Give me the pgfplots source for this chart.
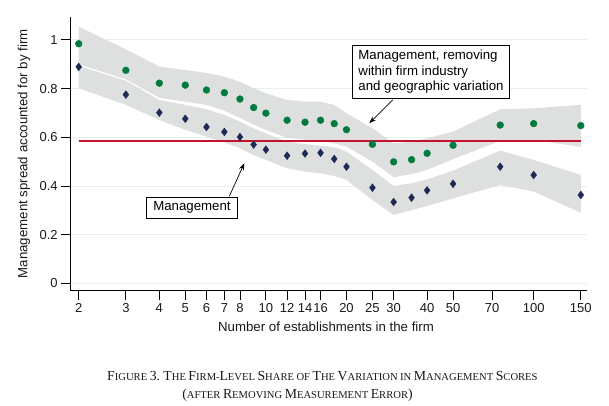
\documentclass[border=0pt]{standalone}
\usepackage{fontspec}
\setsansfont{Liberation Sans}
\newfontfamily\capfont{Liberation Serif}
\usepackage{pgfplots}
\usepackage{pgfplotstable}
\pgfplotsset{compat=1.18}
\usetikzlibrary{arrows.meta}

\definecolor{mgreen}{RGB}{0,122,61}
\definecolor{mnavy}{RGB}{28,42,84}
\definecolor{mred}{RGB}{196,18,48}
\definecolor{bandgray}{RGB}{222,223,223}
\definecolor{gridc}{RGB}{230,240,241}

% caption small caps: big capital, then smaller capitals
\newcommand\B[1]{{\fontsize{13.8}{15}\selectfont #1}}
\newcommand\s[1]{{\fontsize{10.6}{15}\selectfont #1}}

% points: x, removing variation (green), management (navy)
\pgfplotstableread{
x    green  navy
2    0.984  0.889
3    0.875  0.775
4    0.822  0.701
5    0.814  0.676
6    0.794  0.642
7    0.783  0.622
8    0.757  0.601
9    0.722  0.570
10   0.699  0.549
12   0.670  0.524
14   0.662  0.533
16   0.670  0.536
18   0.656  0.511
20   0.631  0.479
25   0.571  0.393
30   0.499  0.334
35   0.508  0.352
40   0.534  0.382
50   0.567  0.409
75   0.650  0.479
100  0.656  0.445
150  0.648  0.363
}\points

% upper band outline: top edge left to right, then bottom edge back
\pgfplotstableread{
x    y
2    1.054
3    0.961
4    0.890
5    0.876
6    0.864
7    0.849
8    0.828
9    0.801
10   0.781
12   0.753
14   0.746
16   0.746
18   0.733
20   0.699
25   0.637
30   0.575
35   0.582
40   0.596
50   0.623
75   0.715
100  0.719
150  0.733
150  0.561
100  0.588
75   0.585
50   0.510
40   0.466
35   0.449
30   0.436
25   0.500
20   0.561
18   0.575
16   0.585
14   0.590
12   0.598
10   0.630
9    0.652
8    0.680
7    0.709
6    0.733
5    0.746
4    0.762
3    0.838
2    0.900
}\upperband

% lower band outline
\pgfplotstableread{
x    y
2    0.893
3    0.832
4    0.753
5    0.733
6    0.715
7    0.692
8    0.664
9    0.637
10   0.616
12   0.582
14   0.572
16   0.565
18   0.560
20   0.541
25   0.466
30   0.400
35   0.411
40   0.427
50   0.463
75   0.545
100  0.507
150  0.445
150  0.290
100  0.377
75   0.404
50   0.349
40   0.318
35   0.301
30   0.281
25   0.342
20   0.425
18   0.441
16   0.452
14   0.459
12   0.473
10   0.507
9    0.527
8    0.555
7    0.578
6    0.603
5    0.630
4    0.671
3    0.733
2    0.801
}\lowerband

\begin{document}
\begin{tikzpicture}
\useasboundingbox (0,0) rectangle (609pt,406pt);
\begin{axis}[
  at={(70.7pt,115.3pt)}, anchor=south west,
  scale only axis, width=516.3pt, height=274pt,
  xmode=log, xmin=1.867, xmax=158.2,
  ymin=-0.03, ymax=1.095,
  axis lines*=left,
  axis line style={line width=1.1pt},
  tick align=outside, major tick length=9.5pt,
  tick style={black, line width=0.8pt},
  xtick={2,3,4,5,6,7,8,10,12,14,16,20,25,30,40,50,70,100,150},
  xticklabels={2,3,4,5,6,7,8,10,12,14,16,20,25,30,40,50,70,100,150},
  minor tick num=0,
  ytick={0,0.2,0.4,0.6,0.8,1},
  yticklabels={0,0.2,0.4,0.6,0.8,1},
  ymajorgrids, grid style={gridc, line width=0.9pt},
  ticklabel style={font=\sffamily\fontsize{13}{13}\selectfont, text=black!90},
  /pgf/number format/assume math mode=true,
  xlabel={Number of establishments in the firm},
  ylabel={Management spread accounted for by firm},
  every axis x label/.style={at={(axis description cs:0.4945,-0.1325)}, anchor=center,
    font=\sffamily\fontsize{13.25}{14}\selectfont, text=black!90},
  every axis y label/.style={at={(axis description cs:-0.0905,0.5)}, rotate=90, anchor=center,
    font=\sffamily\fontsize{13.25}{14}\selectfont, text=black!90},
]
\addplot[fill=bandgray, draw=none] table[x=x, y=y] {\upperband} -- cycle;
\addplot[fill=bandgray, draw=none] table[x=x, y=y] {\lowerband} -- cycle;

\addplot[mred, line width=1.5pt] coordinates {(2,0.585) (150,0.585)};

\addplot[only marks, mark=diamond*, mark size=3.9pt, color=mnavy] table[x=x, y=navy] {\points};
\addplot[only marks, mark=*, mark size=3.4pt, color=mgreen] table[x=x, y=green] {\points};

\node[draw=black, line width=0.8pt, fill=white, align=left, inner xsep=6pt, inner ysep=5pt,
      font=\sffamily\fontsize{13.25}{15.5}\selectfont]
  at (axis cs:41.36,0.869) {Management, removing\\within firm industry\\and geographic variation};
\draw[-{Stealth[length=7pt,width=5pt]}, line width=0.7pt] (axis cs:29.76,0.7532) -- (axis cs:24.33,0.6575);

\node[draw=black, line width=0.8pt, fill=white, inner xsep=7pt, inner ysep=4.5pt,
      font=\sffamily\fontsize{13.25}{15.5}\selectfont]
  at (axis cs:5.298,0.3105) {Management};
\draw[-{Stealth[length=7pt,width=5pt]}, line width=0.7pt] (axis cs:7.301,0.3577) -- (axis cs:8.309,0.4932);
\end{axis}

\node[font=\capfont, text=black!90, inner sep=0pt] at (322.4pt,30pt)
  {\B{F}\s{IGURE} \B{3.} \B{T}\s{HE} \B{F}\s{IRM}-\B{L}\s{EVEL} \B{S}\s{HARE} \s{OF} \B{T}\s{HE} \B{V}\s{ARIATION} \s{IN} \B{M}\s{ANAGEMENT} \B{S}\s{CORES}};
\node[font=\capfont, text=black!90, inner sep=0pt] at (297.5pt,11pt)
  {\B{(}\s{AFTER} \B{R}\s{EMOVING} \B{M}\s{EASUREMENT} \B{E}\s{RROR}\B{)}};
\end{tikzpicture}
\end{document}
